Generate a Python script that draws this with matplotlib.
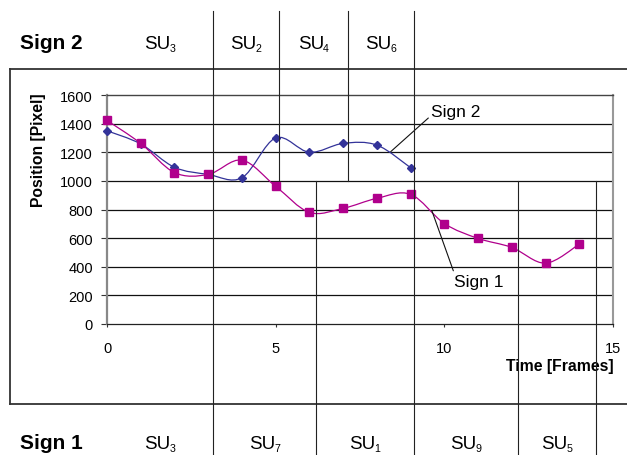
import numpy as np
import matplotlib
matplotlib.use("Agg")
import matplotlib.pyplot as plt
from matplotlib.path import Path
from matplotlib.patches import PathPatch
from matplotlib.lines import Line2D
from matplotlib.transforms import blended_transform_factory

plt.rcParams['font.family'] = ['Liberation Sans', 'DejaVu Sans']

# sign 2 track (blue diamonds), frames 0..9
frames2 = [0, 1, 2, 3, 4, 5, 6, 7, 8, 9]
pos2 = [1350, 1258, 1095, 1045, 1022, 1300, 1200, 1262, 1250, 1092]

# sign 1 track (magenta squares), frames 0..14
frames1 = [0, 1, 2, 3, 4, 5, 6, 7, 8, 9, 10, 11, 12, 13, 14]
pos1 = [1422, 1262, 1058, 1045, 1145, 962, 780, 808, 878, 906, 702, 598, 535, 425, 558]

# sub-unit segmentation (frame boundaries) and names
seg2_bounds = [0, 3.14, 5.1, 7.14, 9.1]
seg2_names = ['3', '2', '4', '6']
seg1_bounds = [0, 3.14, 6.2, 9.1, 12.18, 14.5]
seg1_names = ['3', '7', '1', '9', '5']

yticks = [0, 200, 400, 600, 800, 1000, 1200, 1400, 1600]
xticks = [0, 5, 10, 15]

col1 = '#B0008C'
col2 = '#333399'

W, H = 627, 456


def smooth_path(xs, ys):
    # excel-like smoothed line: cubic bezier through the points
    pts = np.column_stack([xs, ys]).astype(float)
    n = len(pts)
    verts = [pts[0]]
    codes = [Path.MOVETO]
    for i in range(n - 1):
        p0 = pts[max(i - 1, 0)]
        p1 = pts[i]
        p2 = pts[i + 1]
        p3 = pts[min(i + 2, n - 1)]
        c1 = p1 + (p2 - p0) / 6.0
        c2 = p2 - (p3 - p1) / 6.0
        verts += [c1, c2, p2]
        codes += [Path.CURVE4] * 3
    return Path(verts, codes)


def fx(px):
    return px / W


def fy(py):
    return 1 - py / H


fig = plt.figure(figsize=(W / 100, H / 100), dpi=100)
ax = fig.add_axes([fx(107), fy(325), fx(613) - fx(107), fy(96) - fy(325)])

ax.set_xlim(0, 15)
ax.set_ylim(0, 1600)
ax.set_xticks(xticks)
ax.set_yticks(yticks)
ax.tick_params(axis='y', labelsize=10.5, length=4, width=0.8, pad=6, color='#333333')
ax.tick_params(axis='x', labelsize=10.5, length=2.5, width=0.8, pad=10, color='#333333')
for y in yticks[1:-1]:
    ax.axhline(y, color='#111111', lw=0.9, zorder=1)

ax.spines['left'].set_color('#888888')
ax.spines['left'].set_linewidth(1.6)
ax.spines['bottom'].set_color('#222222')
ax.spines['bottom'].set_linewidth(0.9)
ax.spines['top'].set_color('#444444')
ax.spines['top'].set_linewidth(1.0)
ax.spines['right'].set_color('#999999')
ax.spines['right'].set_linewidth(1.5)

ax.add_patch(PathPatch(smooth_path(frames2, pos2), fill=False, edgecolor=col2, lw=0.9, zorder=3))
ax.plot(frames2, pos2, ls='none', marker='D', ms=4.5, color=col2, zorder=4, clip_on=False)
ax.add_patch(PathPatch(smooth_path(frames1, pos1), fill=False, edgecolor=col1, lw=0.9, zorder=3))
ax.plot(frames1, pos1, ls='none', marker='s', ms=5.2, color=col1, zorder=4, clip_on=False)

ax.annotate('Sign 2', xy=(8.41, 1204), xytext=(10.34, 1488), fontsize=12.5,
            ha='center', va='center',
            arrowprops=dict(arrowstyle='-', color='#111111', lw=0.8,
                            shrinkA=0, shrinkB=0, relpos=(0.0, 0.2)))
ax.annotate('Sign 1', xy=(9.63, 792), xytext=(11.03, 300), fontsize=12.5,
            ha='center', va='center',
            arrowprops=dict(arrowstyle='-', color='#111111', lw=0.8,
                            shrinkA=0, shrinkB=0, relpos=(0.0, 1.0)))

fig.text(fx(39), fy(150), 'Position [Pixel]', rotation=90, fontsize=11.3,
         fontweight='bold', ha='center', va='center')
fig.text(fx(614), fy(366), 'Time [Frames]', fontsize=11.3, fontweight='bold',
         ha='right', va='center', zorder=5)

# outer frame around the chart
box = dict(color='#333333', lw=1.3)
fig.add_artist(Line2D([fx(10), fx(10)], [fy(70), fy(405)], **box))
fig.add_artist(Line2D([fx(10), 1.0], [fy(70), fy(70)], **box))
fig.add_artist(Line2D([fx(10), 1.0], [fy(405), fy(405)], **box))

# segmentation lines, x in frames, y in figure fraction
tr = blended_transform_factory(ax.transData, fig.transFigure)
y1000 = fig.transFigure.inverted().transform(ax.transData.transform((0, 1000)))[1]
seg = dict(color='#222222', lw=0.8, transform=tr, zorder=6)
for b in seg2_bounds[1:]:
    fig.add_artist(Line2D([b, b], [fy(12), y1000], **seg))
for b in seg1_bounds[1:]:
    fig.add_artist(Line2D([b, b], [y1000, 0], **seg))

fig.text(fx(20), fy(49), 'Sign 2', fontsize=15, fontweight='bold', va='baseline')
fig.text(fx(20), fy(449), 'Sign 1', fontsize=15, fontweight='bold', va='baseline')


def su_label(mid, ybase, sub):
    t = fig.text(mid - 0.08, ybase, 'SU', transform=tr, fontsize=13.5,
                 ha='center', va='baseline')
    ax.annotate(sub, xy=(1, 0), xycoords=t, xytext=(-0.6, 0.6),
                textcoords='offset points', fontsize=7.7, va='baseline', ha='left',
                annotation_clip=False)


for i, name in enumerate(seg2_names):
    su_label((seg2_bounds[i] + seg2_bounds[i + 1]) / 2, fy(49), name)

for i, name in enumerate(seg1_names):
    su_label((seg1_bounds[i] + seg1_bounds[i + 1]) / 2, fy(449), name)

fig.savefig('out.png', dpi=100)
